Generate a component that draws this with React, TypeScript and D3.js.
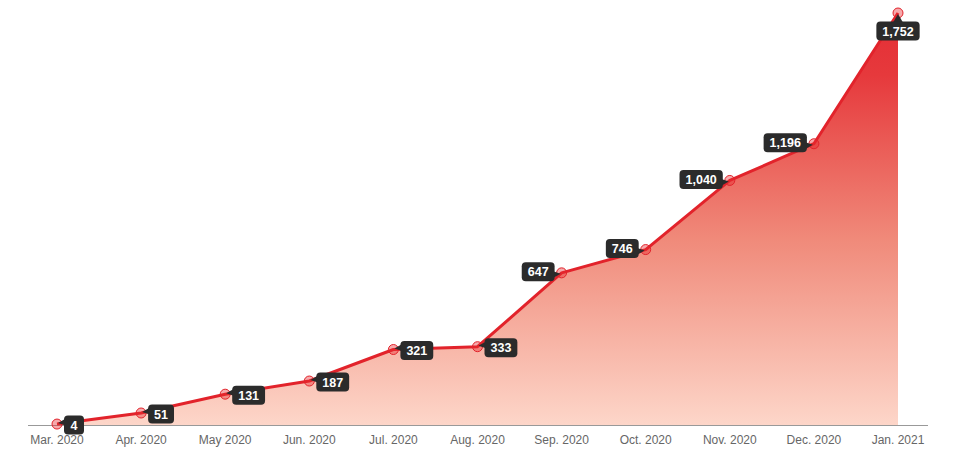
import React, { useEffect, useRef } from "react";
import * as d3 from "d3";

const months = [
  "Mar. 2020", "Apr. 2020", "May 2020", "Jun. 2020", "Jul. 2020", "Aug. 2020",
  "Sep. 2020", "Oct. 2020", "Nov. 2020", "Dec. 2020", "Jan. 2021",
];
const totals = [4, 51, 131, 187, 321, 333, 647, 746, 1040, 1196, 1752];

const App = () => {
  const svgRef = useRef<SVGSVGElement | null>(null);

  useEffect(() => {
    const width = 968;
    const height = 467;
    const margin = { top: 13, right: 70, bottom: 42, left: 57 };

    const svg = d3.select(svgRef.current);
    svg.selectAll("*").remove();
    svg.attr("width", width).attr("height", height).style("font-family", "Arial, 'Liberation Sans', sans-serif");

    const xScale = d3.scalePoint<string>()
      .domain(months)
      .range([margin.left, width - margin.right]);

    const yScale = d3.scaleLinear()
      .domain([0, d3.max(totals)!])
      .range([height - margin.bottom, margin.top]);

    const data = months.map((m, i) => ({ month: m, value: totals[i] }));

    const defs = svg.append("defs");
    const gradient = defs.append("linearGradient")
      .attr("id", "areaGradient")
      .attr("gradientUnits", "userSpaceOnUse")
      .attr("x1", 0).attr("x2", 0)
      .attr("y1", yScale(d3.max(totals)!))
      .attr("y2", yScale(0));
    gradient.append("stop").attr("offset", "0%").attr("stop-color", "#e42d35");
    gradient.append("stop").attr("offset", "15%").attr("stop-color", "#e6393c");
    gradient.append("stop").attr("offset", "55%").attr("stop-color", "#f08a7a");
    gradient.append("stop").attr("offset", "100%").attr("stop-color", "#fdd6c9");

    const area = d3.area<{ month: string; value: number }>()
      .x(d => xScale(d.month)!)
      .y0(yScale(0))
      .y1(d => yScale(d.value));

    svg.append("path")
      .datum(data)
      .attr("fill", "url(#areaGradient)")
      .attr("d", area as any);

    // axis line + labels
    svg.append("line")
      .attr("x1", 28).attr("x2", width - 40)
      .attr("y1", yScale(0) + 0.5).attr("y2", yScale(0) + 0.5)
      .attr("stroke", "#999").attr("stroke-width", 1);

    svg.selectAll(".tick-label")
      .data(months)
      .enter()
      .append("text")
      .attr("class", "tick-label")
      .attr("x", d => xScale(d)!)
      .attr("y", yScale(0) + 19)
      .attr("text-anchor", "middle")
      .style("font-size", "12px")
      .style("fill", "#666")
      .text(d => d);

    const line = d3.line<{ month: string; value: number }>()
      .x(d => xScale(d.month)!)
      .y(d => yScale(d.value));

    svg.append("path")
      .datum(data)
      .attr("fill", "none")
      .attr("stroke", "#e2232b")
      .attr("stroke-width", 3)
      .attr("stroke-linejoin", "round")
      .attr("d", line as any);

    svg.selectAll(".dot")
      .data(data)
      .enter()
      .append("circle")
      .attr("class", "dot")
      .attr("cx", d => xScale(d.month)!)
      .attr("cy", d => yScale(d.value))
      .attr("r", 5)
      .attr("fill", "rgba(232, 40, 45, 0.4)")
      .attr("stroke", "#e2232b")
      .attr("stroke-width", 1);

    // value labels
    const fmt = d3.format(",");
    const n = data.length;
    data.forEach((d, i) => {
      const px = xScale(d.month)!;
      const py = yScale(d.value);
      const side = i === n - 1 ? "below" : i < 6 ? "right" : "left";
      const g = svg.append("g");
      const text = g.append("text")
        .attr("text-anchor", "middle")
        .attr("dy", "0.36em")
        .style("font-size", "12.5px")
        .style("font-weight", "bold")
        .style("fill", "#fff")
        .text(fmt(d.value));
      const tw = (text.node() as SVGTextElement).getComputedTextLength();
      const bw = Math.max(tw + 12, 20);
      const bh = 19;
      let cx: number, cy: number, tail: [number, number][];
      if (side === "right") {
        cx = px + 7 + bw / 2;
        cy = py + 1;
        const l = cx - bw / 2;
        tail = [[px + 1, py - 1], [l + 1, cy - 6], [l + 6, cy + 2]];
      } else if (side === "left") {
        cx = px - 7 - bw / 2;
        cy = py - 1;
        const r = cx + bw / 2;
        tail = [[px - 1, py + 1], [r - 6, cy - 2], [r - 1, cy + 6]];
      } else {
        cx = px;
        cy = py + 18;
        const t = cy - bh / 2;
        tail = [[px, py + 1], [px - 5, t + 1], [px + 5, t + 1]];
      }
      g.insert("path", "text")
        .attr("d", d3.line()(tail)! + "Z")
        .attr("fill", "#2b2b2b");
      g.insert("rect", "text")
        .attr("x", cx - bw / 2)
        .attr("y", cy - bh / 2)
        .attr("width", bw)
        .attr("height", bh)
        .attr("rx", 4)
        .attr("fill", "#2b2b2b");
      text.attr("x", cx).attr("y", cy);
    });
  }, []);

  return (
    <div style={{ position: "fixed", left: 0, top: 0, width: 968, height: 467, background: "#fff" }}>
      <svg ref={svgRef}></svg>
    </div>
  );
};

export default App;
